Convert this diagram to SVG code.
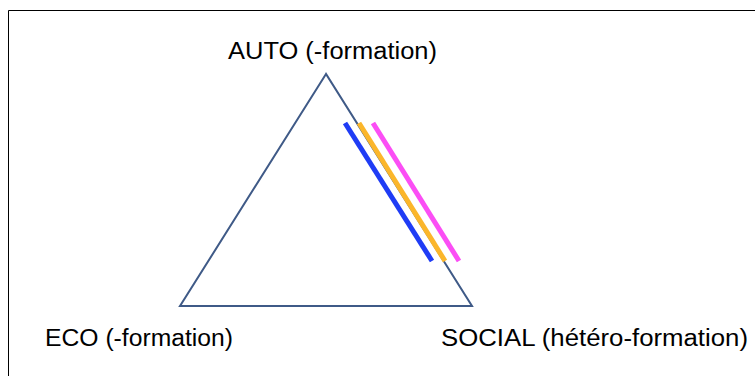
<svg xmlns="http://www.w3.org/2000/svg" width="755" height="376" viewBox="0 0 755 376">
<style>
.lbl{font-family:"Liberation Sans",Arial,sans-serif;font-size:23px;fill:#000}
.bar{stroke-width:5;fill:none}
</style>
<rect width="755" height="376" fill="#fff"/>
<path d="M8.5 380 V10.5 H760" fill="none" stroke="#000" stroke-width="1"/>
<g id="triangle"><polygon points="326,74 180,306 472,306" fill="none" stroke="#3f5a87" stroke-width="2"/></g>
<g id="connectors">
<line class="bar" x1="345" y1="123" x2="432" y2="261" stroke="#1f3cf5"/>
<line class="bar" x1="359" y1="123" x2="445" y2="261" stroke="#fbb62b"/>
<line class="bar" x1="373" y1="123" x2="459" y2="261" stroke="#fb4ef5"/>
</g>
<g id="auto"><text class="lbl" x="228" y="59" textLength="209" lengthAdjust="spacingAndGlyphs">AUTO (-formation)</text></g>
<g id="eco"><text class="lbl" x="45" y="346" textLength="188" lengthAdjust="spacingAndGlyphs">ECO (-formation)</text></g>
<g id="social"><text class="lbl" x="441" y="346" textLength="307" lengthAdjust="spacingAndGlyphs">SOCIAL (hétéro-formation)</text></g>
</svg>
